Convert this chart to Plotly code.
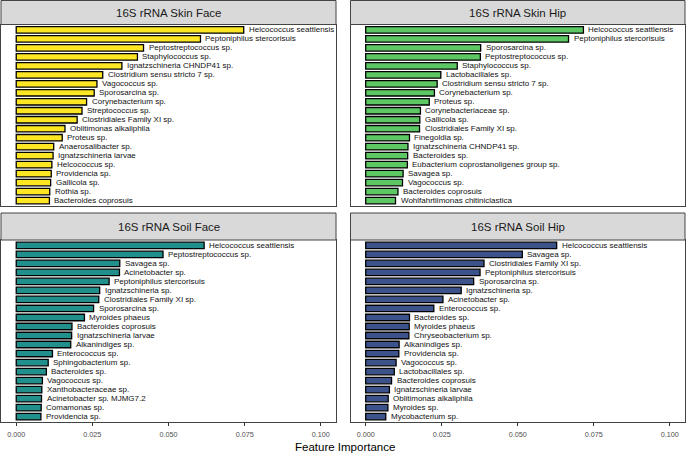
import plotly.graph_objects as go

# ---------------- data ----------------
skin_face_taxa = [
    "Helcococcus seattlensis", "Peptoniphilus stercorisuis", "Peptostreptococcus sp.",
    "Staphylococcus sp.", "Ignatzschineria CHNDP41 sp.", "Clostridium sensu stricto 7 sp.",
    "Vagococcus sp.", "Sporosarcina sp.", "Corynebacterium sp.", "Streptococcus sp.",
    "Clostridiales Family XI sp.", "Oblitimonas alkaliphila", "Proteus sp.",
    "Anaerosalibacter sp.", "Ignatzschineria larvae", "Helcococcus sp.", "Providencia sp.",
    "Gallicola sp.", "Rothia sp.", "Bacteroides coprosuis"]
skin_face_importance = [
    0.0747, 0.0605, 0.0418, 0.0398, 0.0347, 0.0284, 0.0265, 0.0256, 0.0231, 0.0216,
    0.0200, 0.0160, 0.0151, 0.0123, 0.0121, 0.0117, 0.0115, 0.0113, 0.0110, 0.0109]

skin_hip_taxa = [
    "Helcococcus seattlensis", "Peptoniphilus stercorisuis", "Sporosarcina sp.",
    "Peptostreptococcus sp.", "Staphylococcus sp.", "Lactobacillales sp.",
    "Clostridium sensu stricto 7 sp.", "Corynebacterium sp.", "Proteus sp.",
    "Corynebacteriaceae sp.", "Gallicola sp.", "Clostridiales Family XI sp.",
    "Finegoldia sp.", "Ignatzschineria CHNDP41 sp.", "Bacteroides sp.",
    "Eubacterium coprostanoligenes group sp.", "Savagea sp.", "Vagococcus sp.",
    "Bacteroides coprosuis", "Wohlfahrtiimonas chitiniclastica"]
skin_hip_importance = [
    0.0716, 0.0667, 0.0378, 0.0377, 0.0301, 0.0247, 0.0235, 0.0226, 0.0209, 0.0180,
    0.0178, 0.0177, 0.0144, 0.0139, 0.0138, 0.0137, 0.0123, 0.0121, 0.0106, 0.0098]

soil_face_taxa = [
    "Helcococcus seattlensis", "Peptostreptococcus sp.", "Savagea sp.", "Acinetobacter sp.",
    "Peptoniphilus stercorisuis", "Ignatzschineria sp.", "Clostridiales Family XI sp.",
    "Sporosarcina sp.", "Myroides phaeus", "Bacteroides coprosuis", "Ignatzschineria larvae",
    "Alkanindiges sp.", "Enterococcus sp.", "Sphingobacterium sp.", "Bacteroides sp.",
    "Vagococcus sp.", "Xanthobacteraceae sp.", "Acinetobacter sp. MJMG7.2",
    "Comamonas sp.", "Providencia sp."]
soil_face_importance = [
    0.0617, 0.0482, 0.0340, 0.0339, 0.0305, 0.0274, 0.0271, 0.0254, 0.0224, 0.0183,
    0.0182, 0.0179, 0.0119, 0.0105, 0.0099, 0.0086, 0.0084, 0.0083, 0.0082, 0.0081]

soil_hip_taxa = [
    "Helcococcus seattlensis", "Savagea sp.", "Clostridiales Family XI sp.",
    "Peptoniphilus stercorisuis", "Sporosarcina sp.", "Ignatzschineria sp.",
    "Acinetobacter sp.", "Enterococcus sp.", "Bacteroides sp.", "Myroides phaeus",
    "Chryseobacterium sp.", "Alkanindiges sp.", "Providencia sp.", "Vagococcus sp.",
    "Lactobacillales sp.", "Bacteroides coprosuis", "Ignatzschineria larvae",
    "Oblitimonas alkaliphila", "Myroides sp.", "Mycobacterium sp."]
soil_hip_importance = [
    0.0628, 0.0515, 0.0389, 0.0376, 0.0355, 0.0314, 0.0254, 0.0224, 0.0144, 0.0143,
    0.0142, 0.0110, 0.0109, 0.0100, 0.0094, 0.0085, 0.0078, 0.0074, 0.0073, 0.0066]

panel_titles = ["16S rRNA Skin Face", "16S rRNA Skin Hip", "16S rRNA Soil Face", "16S rRNA Soil Hip"]
x_tick_values = [0.0, 0.025, 0.05, 0.075, 0.1]
x_tick_labels = ["0.000", "0.025", "0.050", "0.075", "0.100"]
x_title = "Feature Importance"

# ---------------- styling / layout ----------------
W, H = 686, 457
colors = ["#FDE725", "#5DC863", "#21908C", "#3B528B"]
panels = [
    (skin_face_taxa, skin_face_importance),
    (skin_hip_taxa, skin_hip_importance),
    (soil_face_taxa, soil_face_importance),
    (soil_hip_taxa, soil_hip_importance),
]
# pixel geometry (left, right) columns and (strip top, strip bottom, plot bottom) rows
cols = [(1, 336), (350.5, 685)]
rows = [(0.5, 24.5, 206), (213, 240, 422)]

def px_x(v):
    return v / W

def px_y(v):
    return 1 - v / H

FONT = "Liberation Sans, Arial, Helvetica, sans-serif"
BORDER = "#444444"

fig = go.Figure()
layout = dict(
    width=W, height=H,
    margin=dict(l=0, r=0, t=0, b=0),
    paper_bgcolor="white", plot_bgcolor="white",
    showlegend=False,
    font=dict(family=FONT),
)
shapes = []
annotations = []

for i, (taxa, vals) in enumerate(panels):
    r, c = divmod(i, 2)
    x0, x1 = cols[c]
    st, sb, pb = rows[r]
    ax = "" if i == 0 else str(i + 1)
    xname, yname = "x" + ax, "y" + ax
    fig.add_trace(go.Bar(
        x=vals, y=taxa, orientation="h",
        marker=dict(color=colors[i], line=dict(color="black", width=1.3)),
        width=0.72,
        xaxis=xname, yaxis=yname,
        hoverinfo="x+y",
    ))
    bottom = r == 1
    layout["xaxis" + ax] = dict(
        domain=[px_x(x0), px_x(x1)], anchor=yname,
        range=[-0.005, 0.105],
        tickvals=x_tick_values, ticktext=x_tick_labels,
        showticklabels=bottom,
        ticks="outside" if bottom else "", ticklen=3, tickwidth=1, tickcolor="#333333",
        ticklabelstandoff=2,
        tickfont=dict(size=7.2, color="#4d4d4d", family=FONT),
        showgrid=False, zeroline=False,
        showline=True, mirror=True, linecolor=BORDER, linewidth=1,
        fixedrange=True,
    )
    layout["yaxis" + ax] = dict(
        domain=[px_y(pb), px_y(sb)], anchor=xname,
        type="category", categoryorder="array", categoryarray=taxa,
        range=[len(taxa) - 0.4, -0.6],
        showticklabels=False, ticks="",
        showgrid=False, zeroline=False,
        showline=True, mirror=True, linecolor=BORDER, linewidth=1,
        fixedrange=True,
    )
    # strip
    shapes.append(dict(
        type="rect", xref="paper", yref="paper",
        x0=px_x(x0), x1=px_x(x1), y0=px_y(sb), y1=px_y(st),
        fillcolor="#d9d9d9", line=dict(color=BORDER, width=1), layer="above",
    ))
    annotations.append(dict(
        text=panel_titles[i], xref="paper", yref="paper",
        x=(px_x(x0) + px_x(x1)) / 2, y=(px_y(sb) + px_y(st)) / 2,
        xanchor="center", yanchor="middle", showarrow=False,
        font=dict(size=11.5, color="#1a1a1a", family=FONT),
    ))
    # bar labels
    for t, v in zip(taxa, vals):
        annotations.append(dict(
            text=t, x=v, y=t, xref=xname, yref=yname,
            xanchor="left", yanchor="middle", xshift=3, showarrow=False,
            font=dict(size=8, color="#111111", family=FONT),
        ))

annotations.append(dict(
    text=x_title, xref="paper", yref="paper",
    x=344.5 / W, y=px_y(447), xanchor="center", yanchor="middle", showarrow=False,
    font=dict(size=11.5, color="black", family=FONT),
))

layout["shapes"] = shapes
layout["annotations"] = annotations
fig.update_layout(**layout)
fig.write_html(
    "out.html",
    config={"displayModeBar": False},
    post_script="document.body.style.margin='0';document.body.style.padding='0';",
)
